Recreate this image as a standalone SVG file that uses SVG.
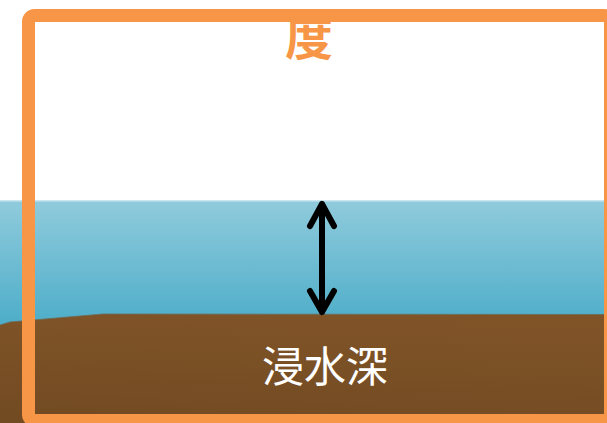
<svg xmlns="http://www.w3.org/2000/svg" width="607" height="423" viewBox="0 0 607 423">
  <defs>
    <linearGradient id="water" x1="0" y1="0" x2="0" y2="1">
      <stop offset="0" stop-color="#90cbdc"/>
      <stop offset="1" stop-color="#4dadc9"/>
    </linearGradient>
    <linearGradient id="soil" x1="0.6" y1="0" x2="0.4" y2="1">
      <stop offset="0" stop-color="#805427"/>
      <stop offset="1" stop-color="#734b23"/>
    </linearGradient>
    <style>
      .label { font-family: "Noto Sans CJK JP", "Noto Sans CJK SC", sans-serif; text-anchor: middle; }
      .title { font-weight: bold; fill: #f79646; }
      .depth { font-weight: normal; fill: #ffffff; }
      .arrow { fill: none; stroke: #000; stroke-width: 6; stroke-linecap: round; stroke-linejoin: round; }
    </style>
  </defs>

  <rect width="607" height="423" fill="#ffffff"/>

  <!-- water body -->
  <g id="water-body">
    <rect x="0" y="200.5" width="607" height="125" fill="url(#water)"/>
    <line x1="0" y1="201" x2="607" y2="201" stroke="#cfe7ef" stroke-width="1"/>
  </g>

  <!-- ground -->
  <g id="ground">
    <path d="M0,325 L10,322 L103,314 L607,314.5 L607,423 L0,423 Z" fill="url(#soil)"/>
    <path d="M0,325 L10,322 L103,314 L607,314.5" fill="none" stroke="#6e6a55" stroke-width="0.8"/>
    <text class="label depth" x="325" y="382" font-size="42">浸水深</text>
  </g>

  <!-- depth measure -->
  <g id="connectors">
    <path class="arrow" d="M322,204 L322,312 M310,226 L322,204 L334,226 M310,291 L322,312 L334,291"/>
  </g>

  <!-- title, partly under the frame -->
  <g id="title">
    <text class="label title" x="309" y="55" font-size="48">度</text>
  </g>

  <!-- frame -->
  <g id="frame">
    <rect x="28.5" y="15.5" width="582" height="405" rx="6" fill="none" stroke="#f79646" stroke-width="13"/>
  </g>
</svg>
